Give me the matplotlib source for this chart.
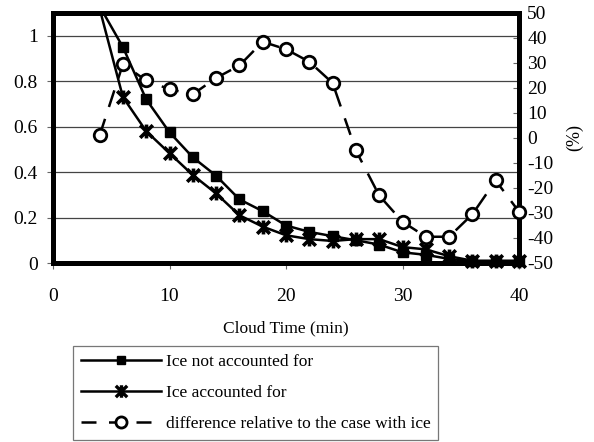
import matplotlib
matplotlib.use("Agg")
import matplotlib.pyplot as plt
from matplotlib.path import Path
from matplotlib.lines import Line2D

plt.rcParams['font.family'] = ['Liberation Serif', 'DejaVu Serif']
plt.rcParams['axes.unicode_minus'] = False

# Cloud time (min)
time_min = [4, 6, 8, 10, 12, 14, 16, 18, 20, 22, 24, 26, 28, 30, 32, 34, 36, 38, 40]
# Normalised quantity, ice not accounted for
no_ice = [1.13, 0.95, 0.72, 0.575, 0.465, 0.384, 0.28, 0.228, 0.165, 0.137, 0.118,
          0.10, 0.081, 0.047, 0.036, 0.018, 0.007, 0.008, 0.007]
# Normalised quantity, ice accounted for
with_ice = [1.12, 0.73, 0.58, 0.483, 0.387, 0.306, 0.21, 0.16, 0.122, 0.105, 0.097,
            0.105, 0.105, 0.07, 0.06, 0.03, 0.01, 0.01, 0.01]
# Relative difference (%) with respect to the case with ice
diff_pct = [1, 29.5, 23, 19.5, 17.5, 24, 29, 38.5, 35.5, 30.5, 22, -5, -23, -33.5,
            -39.5, -39.5, -30.5, -17, -29.5]

left_ticks = [0, 0.2, 0.4, 0.6, 0.8, 1]
left_labels = ['0', '0.2', '0.4', '0.6', '0.8', '1']
right_ticks = [-50, -40, -30, -20, -10, 0, 10, 20, 30, 40, 50]
x_ticks = [0, 10, 20, 30, 40]

# asterisk-like marker: X with a vertical bar
star_x = Path([(-1, -1), (1, 1), (-1, 1), (1, -1), (0, -1.1), (0, 1.1)],
              [Path.MOVETO, Path.LINETO, Path.MOVETO, Path.LINETO, Path.MOVETO, Path.LINETO])

fig = plt.figure(figsize=(5.94, 4.42), dpi=100)
ax = fig.add_axes([53/594, 1 - 263/442, (519 - 53)/594, (263 - 13)/442])
ax2 = ax.twinx()

lw = 1.8
# lines (clipped at the frame)
ax.plot(time_min, no_ice, color='black', lw=lw, zorder=3)
ax.plot(time_min, with_ice, color='black', lw=lw, zorder=3)
# markers (allowed to overlap the frame)
ax.plot(time_min[1:], no_ice[1:], ls='none', marker='s', ms=7.5, color='black',
        clip_on=False, zorder=4)
ax.plot(time_min[1:], with_ice[1:], ls='none', marker=star_x, ms=10, mew=2.6,
        color='black', clip_on=False, zorder=5)

ax2.plot(time_min, diff_pct, color='black', lw=lw, dashes=(7, 5), marker='o', ms=9,
         mfc='white', mec='black', mew=2, clip_on=False, zorder=6)

ax.set_xlim(0, 40)
ax.set_ylim(0, 1.1)
ax2.set_ylim(-50, 50)

ax.set_xticks(x_ticks)
ax.set_yticks(left_ticks)
ax.set_yticklabels(left_labels)
ax2.set_yticks(right_ticks)

ax.grid(axis='y', color='#444444', lw=0.9)
ax.set_axisbelow(True)

for a in (ax, ax2):
    for s in a.spines.values():
        s.set_linewidth(3.6)
        s.set_color('black')

ax.tick_params(axis='x', direction='out', length=4, width=0.8, pad=14,
               labelsize=14, color='#666666')
ax.tick_params(axis='y', direction='out', length=4, width=0.8, pad=7,
               labelsize=14, color='#666666')
ax2.tick_params(axis='y', direction='in', length=4, width=0.8, pad=6,
                labelsize=14, color='#666666')

ax.set_xlabel('Cloud Time (min)', fontsize=12.5, labelpad=11)
ax2.set_ylabel('(%)', fontsize=13, labelpad=9)

handles = [
    Line2D([], [], color='black', lw=lw, marker='s', ms=6),
    Line2D([], [], color='black', lw=lw, marker=star_x, ms=9, mew=2.4),
    Line2D([], [], color='black', lw=lw, dashes=(6, 5), marker='o', ms=8,
           mfc='white', mew=2),
]
labels = ['Ice not accounted for', 'Ice accounted for',
          'difference relative to the case with ice']
leg = fig.legend(handles, labels, loc='upper left',
                 bbox_to_anchor=(73/594, 1 - 346/442), fontsize=12.5,
                 handlelength=4.6, handletextpad=0.3, labelspacing=0.85,
                 borderpad=0.45, borderaxespad=0, frameon=True, fancybox=False)
leg.get_frame().set_edgecolor('#555555')
leg.get_frame().set_linewidth(0.9)

fig.savefig('out.png', dpi=100)
